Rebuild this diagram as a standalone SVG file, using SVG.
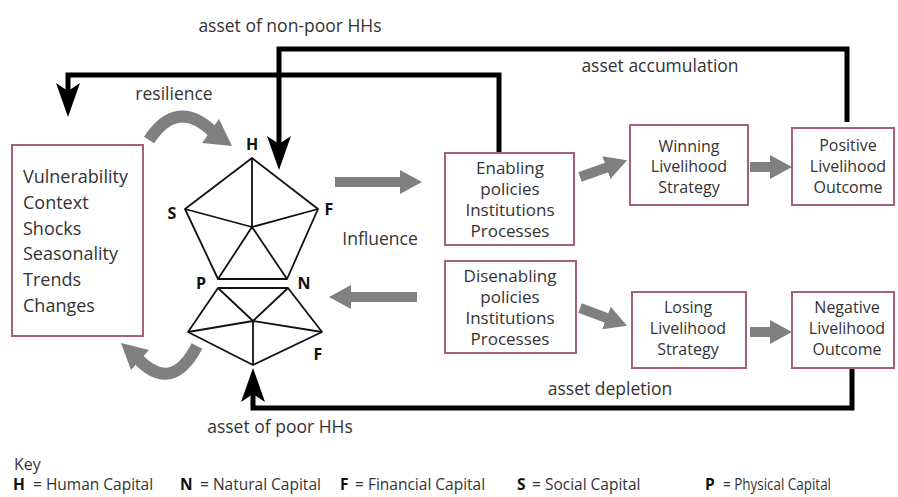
<svg xmlns="http://www.w3.org/2000/svg" width="898" height="497" viewBox="0 0 898 497">
<style>
  text { font-family: "Open Sans", "Liberation Sans", sans-serif; fill: #333; }
  .box { fill: #fff; stroke: #a8607a; stroke-width: 2; }
  .bt { font-size: 17px; text-anchor: middle; }
  .bs { font-size: 16px; text-anchor: middle; }
  .vt { font-size: 18px; }
  .lbl { font-size: 17.5px; }
  .mid { text-anchor: middle; }
  .cap { font-size: 16px; font-weight: bold; fill: #111; text-anchor: middle; }
  .pent { fill: none; stroke: #111; stroke-width: 1.8; stroke-linejoin: round; }
  .blk { fill: none; stroke: #000; stroke-width: 5; stroke-linejoin: miter; }
  .gray { fill: none; stroke: #808080; stroke-width: 10; }
  .curve { fill: none; stroke: #808080; stroke-width: 12; }
  .ghead { fill: #808080; }
  .key { font-size: 15.5px; }
  .keyb { font-size: 15.5px; font-weight: bold; fill: #111; }
</style>
<defs>
  <marker id="blackHead" markerUnits="userSpaceOnUse" viewBox="0 0 34 24" refX="8" refY="12" markerWidth="34" markerHeight="24" orient="auto">
    <path d="M0,0 L34,12 L0,24 L8,12 Z" fill="#000"/>
  </marker>
  <marker id="grayHead" markerUnits="userSpaceOnUse" viewBox="0 0 22 24" refX="1" refY="12" markerWidth="22" markerHeight="24" orient="auto">
    <path d="M0,0 L22,12 L0,24 Z" fill="#808080"/>
  </marker>
</defs>
<rect width="898" height="497" fill="#fff"/>

<g id="connectors">
  <polyline class="blk" points="847,122 847,49 279,49 279,144" marker-end="url(#blackHead)"/>
  <polyline class="blk" points="499,152 499,75 68,75 68,91" marker-end="url(#blackHead)"/>
  <polyline class="blk" points="852,368 852,408 253,408 253,394" marker-end="url(#blackHead)"/>
  <line class="gray" x1="335" y1="182" x2="401" y2="182" marker-end="url(#grayHead)"/>
  <line class="gray" x1="417" y1="297" x2="350" y2="297" marker-end="url(#grayHead)"/>
  <line class="gray" x1="580" y1="177" x2="607.3" y2="167.3" marker-end="url(#grayHead)"/>
  <line class="gray" x1="580" y1="308" x2="607.4" y2="318.3" marker-end="url(#grayHead)"/>
  <line class="gray" x1="750" y1="167" x2="771" y2="167" marker-end="url(#grayHead)"/>
  <line class="gray" x1="750" y1="332" x2="771" y2="332" marker-end="url(#grayHead)"/>
  <path class="curve" d="M149,140 Q177,98 212,131"/>
  <polygon class="ghead" points="219,119 232,146 202,143"/>
  <path class="curve" d="M197,346 Q172,394 138,359"/>
  <polygon class="ghead" points="121,343 149,350 131,370"/>
</g>

<g id="labels">
  <text class="lbl mid" x="290" y="32">asset of non-poor HHs</text>
  <text class="lbl mid" x="174" y="100">resilience</text>
  <text class="lbl mid" x="660" y="72">asset accumulation</text>
  <text class="lbl mid" x="380" y="245">Influence</text>
  <text class="lbl mid" x="610" y="395">asset depletion</text>
  <text class="lbl mid" x="280" y="433">asset of poor HHs</text>
</g>

<g id="vulnerability">
  <rect class="box" x="12" y="145" width="131" height="191"/>
  <text class="vt" x="23" y="183">Vulnerability</text>
  <text class="vt" x="23" y="209">Context</text>
  <text class="vt" x="23" y="235">Shocks</text>
  <text class="vt" x="23" y="260">Seasonality</text>
  <text class="vt" x="23" y="286">Trends</text>
  <text class="vt" x="23" y="312">Changes</text>
</g>

<g id="pentagon-nonpoor">
  <polygon class="pent" points="252,158 318,209 287,279 218,279 185,209"/>
  <path class="pent" d="M252,227 L252,158 M252,227 L185,209 M252,227 L318,209 M252,227 L218,279 M252,227 L287,279"/>
  <text class="cap" x="252" y="150">H</text>
  <text class="cap" x="172" y="219">S</text>
  <text class="cap" x="329" y="215">F</text>
  <text class="cap" x="201" y="289">P</text>
  <text class="cap" x="304" y="289">N</text>
</g>

<g id="pentagon-poor">
  <polygon class="pent" points="218,288 288,288 322,332 253,365 188,332"/>
  <path class="pent" d="M253,321 L218,288 M253,321 L288,288 M253,321 L322,332 M253,321 L188,332 M253,321 L253,365"/>
  <text class="cap" x="318" y="360">F</text>
</g>

<g id="enabling">
  <rect class="box" x="445" y="153" width="129" height="92"/>
  <text class="bt" x="510" y="174">Enabling</text>
  <text class="bt" x="510" y="195">policies</text>
  <text class="bt" x="510" y="216">Institutions</text>
  <text class="bt" x="510" y="237">Processes</text>
</g>

<g id="disenabling">
  <rect class="box" x="445" y="261" width="131" height="92"/>
  <text class="bt" x="510" y="282">Disenabling</text>
  <text class="bt" x="510" y="303">policies</text>
  <text class="bt" x="510" y="324">Institutions</text>
  <text class="bt" x="510" y="345">Processes</text>
</g>

<g id="winning">
  <rect class="box" x="630" y="125" width="118" height="80"/>
  <text class="bs" x="689" y="152">Winning</text>
  <text class="bs" x="689" y="172">Livelihood</text>
  <text class="bs" x="689" y="193">Strategy</text>
</g>

<g id="positive">
  <rect class="box" x="792" y="128" width="102" height="77"/>
  <text class="bs" x="848" y="151">Positive</text>
  <text class="bs" x="848" y="172">Livelihood</text>
  <text class="bs" x="848" y="193">Outcome</text>
</g>

<g id="losing">
  <rect class="box" x="632" y="292" width="114" height="76"/>
  <text class="bs" x="688" y="313">Losing</text>
  <text class="bs" x="688" y="334">Livelihood</text>
  <text class="bs" x="688" y="355">Strategy</text>
</g>

<g id="negative">
  <rect class="box" x="792" y="292" width="102" height="76"/>
  <text class="bs" x="847" y="313">Negative</text>
  <text class="bs" x="847" y="334">Livelihood</text>
  <text class="bs" x="847" y="355">Outcome</text>
</g>

<g id="key">
  <text class="lbl" x="14" y="470" style="font-size:16px">Key</text>
  <text class="keyb" x="13" y="490">H</text>
  <text class="key" x="33" y="490">= Human Capital</text>
  <text class="keyb" x="180" y="490">N</text>
  <text class="key" x="200" y="490">= Natural Capital</text>
  <text class="keyb" x="340" y="490">F</text>
  <text class="key" x="355" y="490">= Financial Capital</text>
  <text class="keyb" x="517" y="490">S</text>
  <text class="key" x="532" y="490">= Social Capital</text>
  <text class="keyb" x="705" y="490">P</text>
  <text class="key" x="723" y="490" textLength="108" lengthAdjust="spacingAndGlyphs">= Physical Capital</text>
</g>
</svg>
